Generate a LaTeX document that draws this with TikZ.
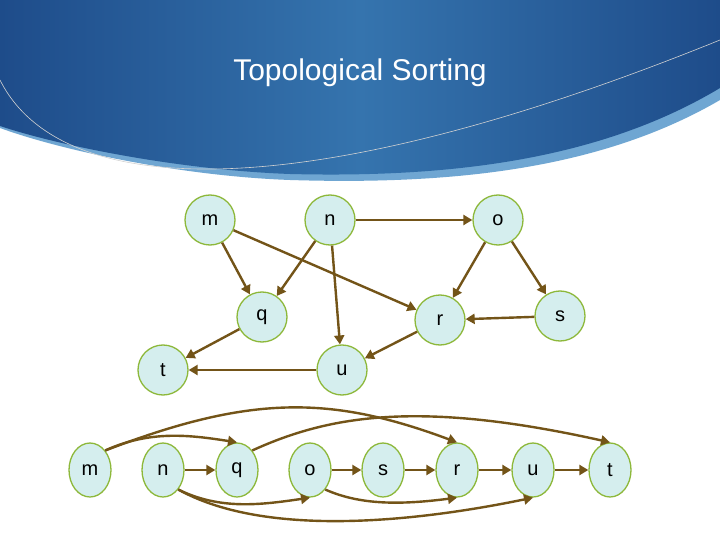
\documentclass[tikz,border=0pt]{standalone}
\usepackage{fontspec}
\setmainfont{Liberation Sans}
\usetikzlibrary{arrows.meta,shapes.geometric}
\definecolor{hdrA}{HTML}{1E4C8A}
\definecolor{hdrB}{HTML}{3574AE}
\definecolor{hdrL}{HTML}{6FA6D2}
\definecolor{nfill}{HTML}{D5EEEE}
\definecolor{nbord}{HTML}{8DB83A}
\definecolor{arr}{HTML}{735418}
\begin{document}
\begin{tikzpicture}[x=1pt,y=-1pt,
  vtx/.style={circle,draw=nbord,fill=nfill,line width=1.3pt,minimum size=50pt,inner sep=0pt,font=\fontsize{20}{20}\selectfont},
  ovtx/.style={ellipse,draw=nbord,fill=nfill,line width=1.3pt,minimum width=42pt,minimum height=54pt,inner sep=0pt,font=\fontsize{20}{20}\selectfont},
  edge/.style={draw=arr,line width=2.4pt,-{Triangle[length=9pt,width=10pt]}}]
\useasboundingbox (0,0) rectangle (720,540);
\fill[white] (0,0) rectangle (720,540);
% header
\fill[hdrL] (0,0) -- (720,0) -- (720,100) .. controls (600,170) and (450,185) .. (290,180) .. controls (180,176) and (60,150) .. (0,128) -- cycle;
\shade[left color=hdrA,right color=hdrA,middle color=hdrB] (0,0) -- (720,0) -- (720,88) .. controls (600,160) and (450,178) .. (290,174) .. controls (180,170) and (60,146) .. (0,126) -- cycle;
\draw[gray!35,line width=0.6pt] (0,80) .. controls (60,200) and (300,210) .. (720,40);
\node[white,font=\fontsize{30}{30}\selectfont] (title) at (360,73) {Topological Sorting};
% graph
\node[vtx] (m) at (210,220) {m};
\node[vtx] (n) at (330,220) {n};
\node[vtx] (o) at (498,220) {o};
\node[vtx] (q) at (262,317) {q};
\node[vtx] (r) at (440,320) {r};
\node[vtx] (s) at (560,316) {s};
\node[vtx] (t) at (163,370) {t};
\node[vtx] (u) at (342,370) {u};
\draw[edge] (m) -- (q);
\draw[edge] (m) -- (r);
\draw[edge] (n) -- (q);
\draw[edge] (n) -- (u);
\draw[edge] (n) -- (o);
\draw[edge] (o) -- (r);
\draw[edge] (o) -- (s);
\draw[edge] (s) -- (r);
\draw[edge] (r) -- (u);
\draw[edge] (q) -- (t);
\draw[edge] (u) -- (t);
% order row
\node[ovtx] (m2) at (90,470) {m};
\node[ovtx] (n2) at (163,470) {n};
\node[ovtx] (q2) at (237,470) {q};
\node[ovtx] (o2) at (310,470) {o};
\node[ovtx] (s2) at (383,470) {s};
\node[ovtx] (r2) at (457,470) {r};
\node[ovtx] (u2) at (533,470) {u};
\node[ovtx] (t2) at (610,470) {t};
\draw[edge] (n2) -- (q2);
\draw[edge] (o2) -- (s2);
\draw[edge] (s2) -- (r2);
\draw[edge] (r2) -- (u2);
\draw[edge] (u2) -- (t2);
\draw[edge] (m2.north east) .. controls (150,430) and (190,435) .. (q2.north);
\draw[edge] (m2.north east) .. controls (250,395) and (330,395) .. (r2.north);
\draw[edge] (q2.north east) .. controls (330,415) and (420,400) .. (t2.north);
\draw[edge] (n2.south east) .. controls (220,510) and (260,505) .. (o2.south);
\draw[edge] (n2.south east) .. controls (260,535) and (400,525) .. (u2.south);
\draw[edge] (o2.south east) .. controls (360,505) and (400,505) .. (r2.south);
\end{tikzpicture}
\end{document}
